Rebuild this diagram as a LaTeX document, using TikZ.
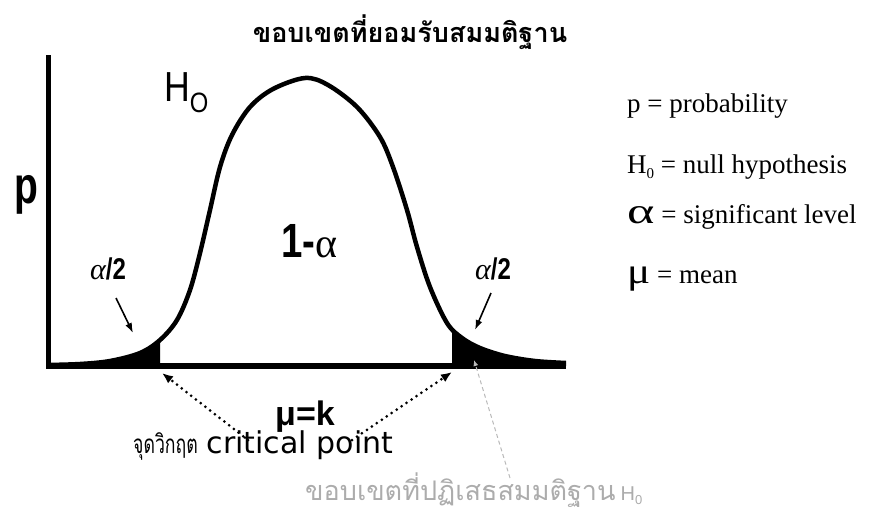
\documentclass[tikz,border=0pt]{standalone}
\usepackage{fontspec}
\setmainfont{Liberation Serif}
\newfontfamily\sansf{Liberation Sans}
\newfontfamily\dejavu{DejaVu Sans}
\newfontfamily\thaifont[Script=Thai]{Loma}
\usetikzlibrary{arrows.meta}
\newcommand{\fs}[1]{\fontsize{#1}{#1}\selectfont}
\begin{document}
\begin{tikzpicture}[x=1pt,y=-1pt,
  axisline/.style={line width=6pt},
  bell/.style={line width=4.5pt,line join=round},
  dotarrow/.style={line width=3pt,line cap=round,dash pattern=on 0pt off 6pt,-{Latex[length=11pt,width=9pt]}},
  smallarrow/.style={line width=1.6pt,-{Latex[length=10pt,width=7pt]}},
  grayarrow/.style={line width=1pt,gray!55,dash pattern=on 4pt off 3pt,-{Latex[length=6pt,width=5pt]}},
  lbl/.style={inner sep=0pt,anchor=base west}
]
\useasboundingbox (0,0) rectangle (869,520);
\def\bellpts{(47,365) (80,364) (110,361) (140,353) (160,340) (177,320) (190,290) (200,253) (210,210) (220,167) (232,135) (250,107) (273,89) (305,78) (328,85) (357,107) (380,137) (393,167) (407,210) (417,247) (430,287) (447,323) (462,338) (480,348) (505,356) (535,361) (566,363)}
% tails
\begin{scope}
  \clip (0,0) rectangle (160,370);
  \fill plot[smooth,tension=0.55] coordinates {\bellpts} -- (566,366) -- (47,366) -- cycle;
\end{scope}
\begin{scope}
  \clip (452,0) rectangle (600,370);
  \fill plot[smooth,tension=0.55] coordinates {\bellpts} -- (566,366) -- (47,366) -- cycle;
\end{scope}
\draw[bell] plot[smooth,tension=0.55] coordinates {\bellpts};
% axes
\coordinate (o) at (48,366);
\coordinate (ytop) at (48,55);
\coordinate (xend) at (566,366);
\draw[line width=5pt] (ytop) -- (48,369);
\draw[axisline] (46,366) -- (xend);
% labels
\node[lbl] (p) at (14,203) {\sansf\bfseries\fs{52}\scalebox{0.75}[1]{p}};
\node[lbl] (h0) at (164,101) {\sansf\fs{42}\scalebox{0.85}[1]{H}\raisebox{-11pt}{\fs{28}\scalebox{0.85}[1]{O}}};
\node[lbl] (onealpha) at (281,257) {\sansf\bfseries\fs{48}\scalebox{0.8}[1]{1-}\fs{42}\rmfamily\mdseries α};
\node[lbl] (aL) at (90,279) {\fs{30}\itshape α\sansf\upshape\bfseries\scalebox{0.8}[1]{/2}};
\node[lbl] (aR) at (475,279) {\fs{30}\itshape α\sansf\upshape\bfseries\scalebox{0.8}[1]{/2}};
\coordinate (aLs) at (116,298);
\coordinate (aLe) at (133,333);
\coordinate (aRs) at (491,293);
\coordinate (aRe) at (475,330);
\draw[smallarrow] (aLs) -- (aLe);
\draw[smallarrow] (aRs) -- (aRe);
\node[lbl] (mu) at (275,425) {\sansf\bfseries\fs{34}μ=k};
\node[lbl] (crit) at (133,453) {\thaifont\fs{26}\scalebox{0.68}[1]{จุดวิกฤต} \dejavu\fs{30}critical point};
\coordinate (dLs) at (248,440);
\coordinate (dLe) at (162,373);
\coordinate (dRs) at (352,440);
\coordinate (dRe) at (452,372);
\draw[dotarrow] (dLs) -- (dLe);
\draw[dotarrow] (dRs) -- (dRe);
\node[anchor=base] (title) at (410,42) {\thaifont\bfseries\fs{27}ขอบเขตที่ยอมรับสมมติฐาน};
\node[lbl,text=gray!65] (reject) at (305,500) {\thaifont\fs{27}ขอบเขตที่ปฏิเสธสมมติฐาน\hspace{5pt}\sansf\fs{20}H\raisebox{-4pt}{\fs{13}0}};
\coordinate (gs) at (510,478);
\coordinate (ge) at (474,360);
\draw[grayarrow] (gs) -- (ge);
% legend
\node[lbl] (l1) at (627,112) {\fs{27}p = probability};
\node[lbl] (l2) at (627,173) {\fs{27}H\raisebox{-5pt}{\fs{15}0} = null hypothesis};
\node[lbl] (l3) at (627,223) {\fs{36}\scalebox{1.45}[1]{α}\fs{27} = significant level};
\node[lbl] (l4) at (627,283) {\fs{36}\scalebox{1.2}[1]{μ}\fs{27} = mean};
\end{tikzpicture}
\end{document}
